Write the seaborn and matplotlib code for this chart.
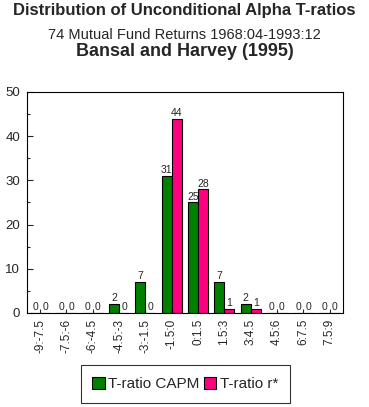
import matplotlib
matplotlib.use("Agg")
import matplotlib.pyplot as plt
import seaborn as sns
import pandas as pd
from matplotlib.ticker import MultipleLocator
from matplotlib.patches import Patch

categories = ["-9:-7.5", "-7.5:-6", "-6:-4.5", "-4.5:-3", "-3:-1.5", "-1.5:0",
              "0:1.5", "1.5:3", "3:4.5", "4.5:6", "6:7.5", "7.5:9"]
capm = [0, 0, 0, 2, 7, 31, 25, 7, 2, 0, 0, 0]
rstar = [0, 0, 0, 0, 0, 44, 28, 1, 1, 0, 0, 0]
series_names = ["T-ratio CAPM", "T-ratio r*"]
colors = ["#008000", "#FF0080"]

df = pd.DataFrame({
    "bin": categories * 2,
    "count": capm + rstar,
    "series": [series_names[0]] * len(categories) + [series_names[1]] * len(categories),
})

sns.set_style("white")
plt.rcParams['font.family'] = ['Liberation Sans', 'DejaVu Sans']

fig = plt.figure(figsize=(3.69, 4.07), dpi=100)
ax = fig.add_axes([0.073, 0.231, 0.856, 0.543])

sns.barplot(data=df, x="bin", y="count", hue="series", order=categories,
            hue_order=series_names, palette=colors, width=0.76, saturation=1,
            edgecolor="black", linewidth=0.8, ax=ax, legend=False)

for cont in ax.containers:
    ax.bar_label(cont, fmt="%d", padding=0.5, fontsize=7.5)

ax.set_ylim(0, 50)
ax.yaxis.set_major_locator(MultipleLocator(10))
ax.yaxis.set_minor_locator(MultipleLocator(5))
ax.tick_params(axis="y", which="major", direction="in", length=4, width=0.8,
               left=True, labelsize=9.5, pad=5)
ax.tick_params(axis="y", which="minor", direction="in", length=2, width=0.8, left=True)
ax.tick_params(axis="x", which="major", direction="in", length=3, width=0.8,
               bottom=True, labelsize=8.5, pad=4)
ax.set_xticks(range(len(categories)))
ax.set_xticklabels(categories, rotation=90)
ax.set_xlabel("")
ax.set_ylabel("")
for s in ax.spines.values():
    s.set_color("black")
    s.set_linewidth(0.8)

fig.text(0.5, 1 - 11 / 407, "Distribution of Unconditional Alpha T-ratios",
         ha="center", va="center", fontsize=12, fontweight="bold")
fig.text(0.5, 1 - 35 / 407, "74 Mutual Fund Returns 1968:04-1993:12",
         ha="center", va="center", fontsize=10.5)
fig.text(0.5, 1 - 51 / 407, "Bansal and Harvey (1995)",
         ha="center", va="center", fontsize=13, fontweight="bold")

handles = [Patch(facecolor=c, edgecolor="black", linewidth=0.8) for c in colors]
leg = fig.legend(handles, series_names, loc="center", bbox_to_anchor=(0.502, 1 - 384 / 407),
                 ncol=2, frameon=True, fancybox=False, fontsize=11,
                 handlelength=0.8, handleheight=0.8, handletextpad=0.25,
                 columnspacing=0.25, borderpad=0.75, edgecolor="black")
leg.get_frame().set_linewidth(0.8)

fig.savefig("out.png", dpi=100)
